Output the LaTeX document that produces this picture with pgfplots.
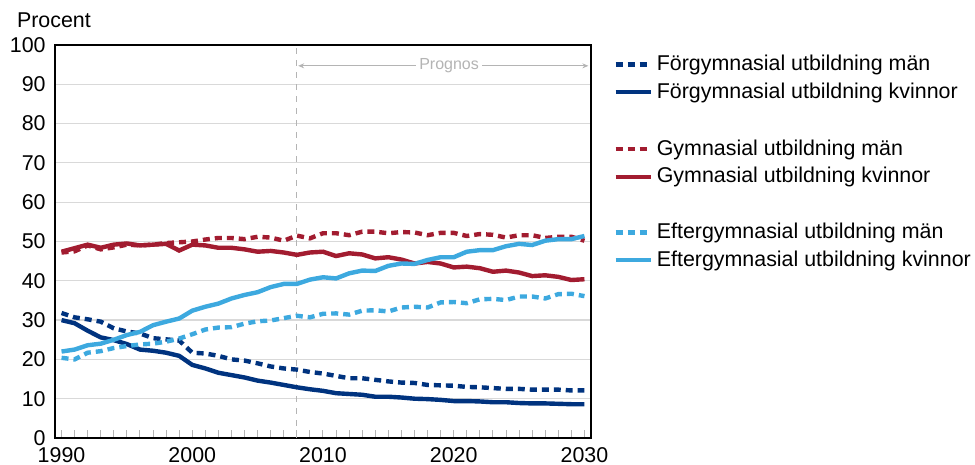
\documentclass[border=0pt]{standalone}
\usepackage{fontspec}
\setmainfont{Liberation Sans}
\usepackage{pgfplots}
\usepackage{pgfplotstable}
\pgfplotsset{compat=1.18}
\usetikzlibrary{arrows.meta}

\definecolor{dblue}{HTML}{00337F}
\definecolor{dred}{HTML}{A21C30}
\definecolor{lblue}{HTML}{3DA9DF}
\definecolor{gridgray}{HTML}{D9D9D9}
\definecolor{progray}{HTML}{B4B4B4}

% year, forgymnasial man/kvinnor, gymnasial man/kvinnor, eftergymnasial man/kvinnor
\pgfplotstableread{
year fm fk gm gk em ek
1990 31.8 30.0 47.2 47.4 20.4 22.0
1991 30.7 29.2 47.5 48.3 20.0 22.5
1992 30.2 27.3 49.0 49.2 21.7 23.6
1993 29.6 25.6 48.0 48.4 22.1 24.0
1994 27.9 24.9 48.5 49.2 22.9 25.0
1995 27.1 23.9 49.2 49.5 23.4 26.2
1996 26.6 22.5 49.0 49.0 23.8 27.0
1997 25.4 22.2 49.2 49.2 24.0 28.7
1998 25.1 21.7 49.6 49.4 24.5 29.6
1999 24.8 20.9 49.8 47.7 25.3 30.4
2000 21.7 18.6 50.0 49.2 26.4 32.4
2001 21.5 17.7 50.5 49.0 27.6 33.4
2002 20.9 16.6 50.9 48.4 28.1 34.2
2003 20.0 16.0 50.9 48.4 28.2 35.5
2004 19.7 15.4 50.6 48.0 29.1 36.4
2005 19.0 14.6 51.2 47.4 29.7 37.1
2006 18.2 14.1 51.0 47.6 29.9 38.4
2007 17.7 13.5 50.2 47.2 30.5 39.2
2008 17.4 12.9 51.5 46.6 31.1 39.2
2009 16.8 12.4 50.8 47.2 30.7 40.3
2010 16.4 12.0 52.1 47.4 31.6 40.9
2011 15.8 11.4 52.1 46.3 31.7 40.6
2012 15.2 11.2 51.6 47.0 31.4 41.9
2013 15.2 11.0 52.5 46.7 32.4 42.6
2014 14.8 10.5 52.5 45.7 32.5 42.5
2015 14.4 10.5 52.1 46.0 32.2 43.8
2016 14.1 10.3 52.4 45.4 33.2 44.4
2017 14.0 10.0 52.3 44.4 33.4 44.3
2018 13.5 9.9 51.6 44.8 33.2 45.3
2019 13.4 9.7 52.2 44.4 34.5 46.0
2020 13.3 9.4 52.2 43.4 34.6 46.0
2021 13.0 9.4 51.4 43.6 34.3 47.4
2022 12.9 9.3 51.9 43.2 35.3 47.8
2023 12.7 9.1 51.7 42.3 35.4 47.8
2024 12.5 9.1 51.0 42.6 35.1 48.8
2025 12.5 8.9 51.6 42.1 36.0 49.4
2026 12.3 8.8 51.6 41.2 36.0 49.1
2027 12.3 8.8 50.9 41.4 35.5 50.2
2028 12.3 8.7 51.2 41.0 36.6 50.6
2029 12.1 8.6 51.2 40.2 36.7 50.6
2030 12.1 8.6 50.2 40.4 36.1 51.4
}\datatable

\begin{document}
\begin{tikzpicture}[font=\fontsize{10.7bp}{12.5bp}\selectfont]
\begin{axis}[
  scale only axis,
  width=268bp, height=196.5bp,
  xmin=1989.5, xmax=2030.5,
  ymin=0, ymax=100,
  xtick={1990,2000,2010,2020,2030},
  minor xtick={1990,1991,...,2030},
  ytick={0,10,...,100},
  xtick pos=bottom,
  tick align=inside,
  major tick length=4bp, minor tick length=4bp,
  x tick style={progray, line width=0.5bp},
  y tick style={draw=none},
  ymajorgrids,
  grid style={gridgray, line width=0.6bp},
  axis line style={black, line width=0.8bp},
  /pgf/number format/1000 sep={},
  /pgf/number format/assume math mode=true,
  ticklabel style={font=\fontsize{10.7bp}{12.5bp}\selectfont, inner sep=0pt},
  yticklabel style={xshift=-4.5bp},
  xticklabel style={yshift=-4.4bp},
  clip=false,
  legend style={draw=none, fill=none, at={(1.030,0.995)}, anchor=north west,
    font=\fontsize{10.7bp}{12.5bp}\selectfont, row sep=0.6bp},
  legend cell align=left,
  legend image code/.code={\draw[#1] (0bp,0bp) -- (17.5bp,0bp);},
  every axis plot/.append style={line width=2.2bp},
  mdash/.style={dash pattern=on 3.5bp off 2.5bp},
]
\coordinate (sw) at (rel axis cs:0,0);
\coordinate (nw) at (rel axis cs:0,1);

\draw[progray, line width=0.6bp, dash pattern=on 3bp off 3bp] (axis cs:2008,0) -- (axis cs:2008,100);
\draw[progray, line width=0.5bp, {Stealth[length=3bp,width=2.5bp]}-{Stealth[length=3bp,width=2.5bp]}]
  (axis cs:2008.1,94.7) -- node[pos=0.52, fill=white, inner sep=1.5bp, text=progray,
  font=\fontsize{8bp}{9bp}\selectfont] {Prognos} (axis cs:2030.3,94.7);

\addplot[dblue, mdash] table[x=year, y=fm] {\datatable};
\addlegendentry{Förgymnasial utbildning män}
\addplot[dblue] table[x=year, y=fk] {\datatable};
\addlegendentry{Förgymnasial utbildning kvinnor}
\addlegendimage{empty legend}
\addlegendentry{\rule[-3bp]{0pt}{11.5bp}}
\addplot[dred, mdash] table[x=year, y=gm] {\datatable};
\addlegendentry{Gymnasial utbildning män}
\addplot[dred] table[x=year, y=gk] {\datatable};
\addlegendentry{Gymnasial utbildning kvinnor}
\addlegendimage{empty legend}
\addlegendentry{\rule[-3bp]{0pt}{11bp}}
\addplot[lblue, mdash] table[x=year, y=em] {\datatable};
\addlegendentry{Eftergymnasial utbildning män}
\addplot[lblue] table[x=year, y=ek] {\datatable};
\addlegendentry{Eftergymnasial utbildning kvinnor}
\end{axis}
\node[anchor=west] at ([shift={(-22.5bp,12.5bp)}]nw) {Procent};
\pgfresetboundingbox
\path ([shift={(-27.5bp,-13.5bp)}]sw) rectangle ([shift={(460bp,219bp)}]sw);
\end{tikzpicture}
\end{document}
